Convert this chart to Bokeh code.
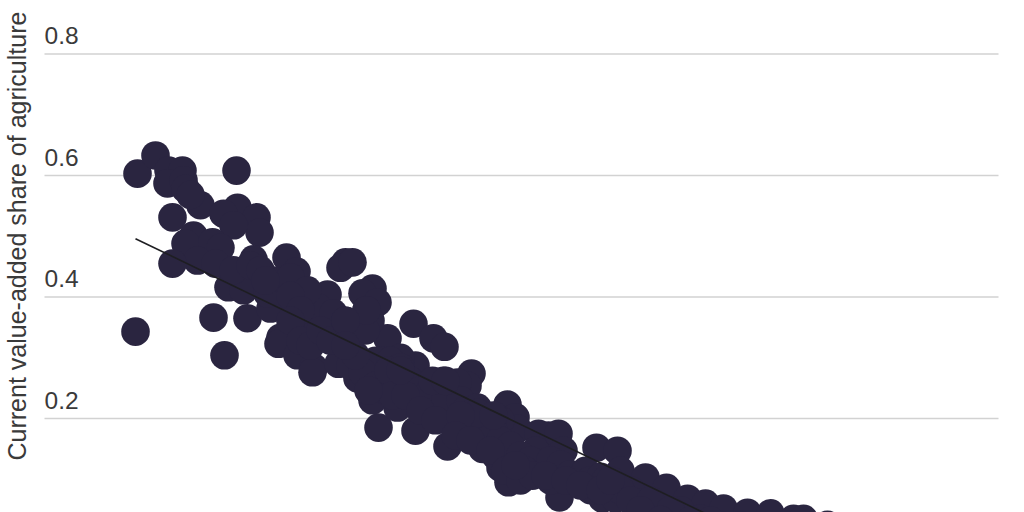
from bokeh.plotting import figure
from bokeh.embed import file_html
from bokeh.resources import INLINE
from bokeh.models import Label, Range1d
from bokeh.core.properties import value

tick_values = [0.2, 0.4, 0.6, 0.8]
tick_labels = ["0.2", "0.4", "0.6", "0.8"]
y_title = "Current value-added share of agriculture"

# Income index (x, unlabelled in the crop) and agriculture share (y)
income = [
 1.37,1.55,1.68,1.82,1.67,1.83,2.00,1.72,2.36,2.37,2.23,2.56,2.59,2.33,1.93,1.85,2.12,2.20,1.97,1.72,
 2.53,2.86,2.96,3.45,3.40,3.52,3.27,2.13,2.47,2.24,1.35,2.28,2.43,2.15,2.33,2.73,2.90,2.70,2.67,2.80,
 2.78,2.97,3.13,3.40,3.03,3.17,3.33,3.07,3.72,3.62,3.77,4.13,4.33,4.44,3.87,4.71,4.67,4.15,3.78,4.15,
 4.47,3.72,3.57,3.12,3.38,5.07,5.15,5.17,5.08,5.00,4.82,5.48,5.38,5.59,5.40,4.43,4.57,4.00,3.97,4.33,
 4.50,4.73,4.87,5.07,5.00,5.35,5.58,5.63,5.96,6.17,6.20,6.45,6.66,6.87,7.05,7.23,7.47,7.70,7.93,8.03,
 8.27,5.77,6.02,6.15,6.37,6.60,6.80,6.55,6.80,7.00,7.20,7.40,
 2.50,2.60,2.65,2.90,3.00,2.90,3.00,3.10,3.20,3.30,3.45,3.50,3.60,3.70,3.66,3.65,3.80,3.75,3.90,3.85,
 4.00,4.10,4.20,4.30,4.45,4.60,4.65,4.77,4.80,4.93,5.00,4.95,5.10,5.20,5.30,5.25,5.50,5.60,5.50,5.70,
 5.85,5.90,6.00,6.05,6.30,6.20,5.90,3.66,3.45,4.32,4.45,4.77,4.93,
 3.50,3.62,3.75,3.88,3.92,4.05,4.00,3.68,3.55,3.45,4.20,4.35,4.60,4.55,4.70,4.90,5.05,5.20,5.32,5.15,
 5.45,5.65,5.80,6.00,6.10,6.30,6.50,6.70,6.90,7.10,6.40,6.60,1.85,1.90,
]
share = [
 .603,.633,.608,.608,.587,.592,.551,.531,.608,.547,.537,.531,.506,.518,.501,.488,.490,.481,.460,.455,
 .462,.465,.442,.457,.448,.457,.404,.366,.365,.304,.343,.416,.411,.455,.444,.427,.432,.381,.406,.333,
 .323,.304,.284,.292,.350,.383,.373,.411,.414,.406,.391,.356,.332,.318,.332,.274,.254,.287,.185,.180,
 .154,.230,.266,.276,.290,.223,.202,.183,.095,.119,.150,.172,.175,.070,.119,.262,.259,.300,.218,.218,
 .197,.202,.169,.152,.197,.147,.175,.147,.152,.147,.114,.103,.086,.068,.060,.052,.045,.044,.035,.035,
 .025,.095,.068,.068,.065,.053,.049,.032,.032,.035,.024,.024,
 .452,.444,.427,.402,.378,.361,.328,.320,.345,.328,.361,.333,.361,.361,.378,.345,.295,.295,.295,.246,
 .284,.262,.246,.246,.230,.230,.213,.218,.197,.180,.164,.139,.155,.139,.131,.114,.131,.124,.098,.108,
 .114,.098,.104,.098,.082,.082,.082,.378,.361,.262,.262,.209,.205,
 .287,.276,.254,.279,.238,.238,.279,.246,.304,.320,.213,.197,.205,.172,.164,.147,.114,.098,.106,.123,
 .106,.098,.090,.082,.098,.065,.065,.049,.032,.032,.049,.033,.578,.568,
]

trend_x = [1.35, 7.60]
trend_y = [0.496, 0.0]

p = figure(width=1024, height=512, output_backend="svg", toolbar_location=None,
           x_range=Range1d(0.0, 10.24), y_range=Range1d(0.0453, 0.888),
           min_border=0, outline_line_color=None, background_fill_color="white")
p.axis.visible = False
p.grid.visible = False

p.segment(x0=[0.44] * len(tick_values), x1=[9.98] * len(tick_values),
          y0=tick_values, y1=tick_values, line_color="#d2d2d2", line_width=1.6)
p.text(x=[0.44] * len(tick_values), y=tick_values, text=tick_labels, x_offset=0, y_offset=-18,
       text_font=value("Liberation Sans"), text_font_size="24.5px", text_color="#3a3a3a",
       text_align="left", text_baseline="alphabetic")
p.scatter(income, share, size=28.6, marker="circle", fill_color="#2a2540", line_color=None)
p.line(trend_x, trend_y, line_color="#1e1e22", line_width=1.6)

p.add_layout(Label(x=16, y=52, x_units="screen", y_units="screen", text=y_title, angle=90, angle_units="deg",
                   text_font="Liberation Sans", text_font_size="25px", text_color="#3a3a3a",
                   text_align="left", text_baseline="alphabetic"))

open("out.html", "w").write(file_html(p, INLINE))
